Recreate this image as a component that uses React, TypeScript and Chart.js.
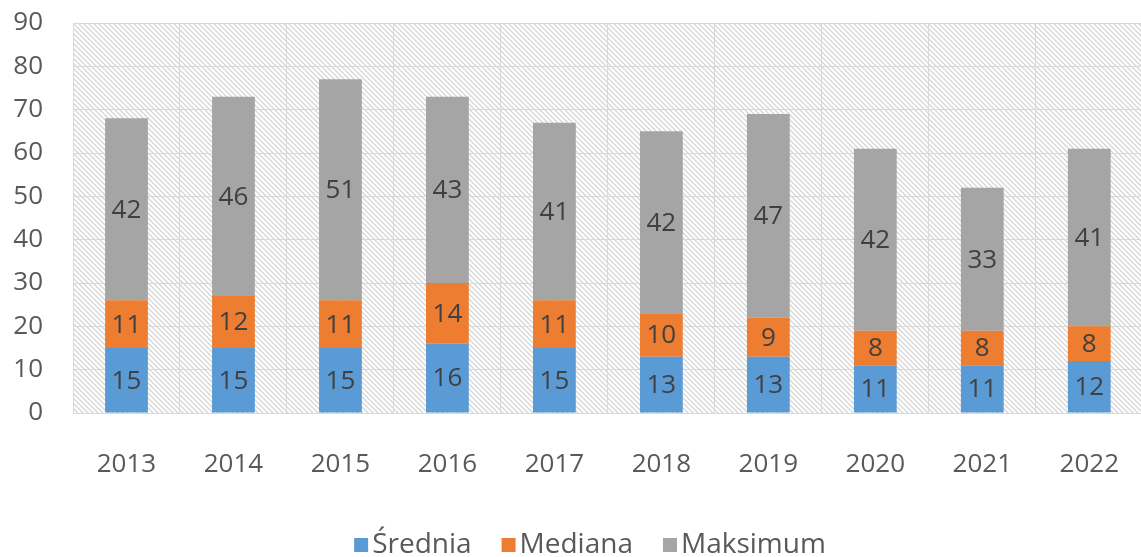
import React, { useEffect, useRef } from 'react';
import { Chart, registerables } from 'chart.js';

Chart.register(...registerables);

const years = ['2013', '2014', '2015', '2016', '2017', '2018', '2019', '2020', '2021', '2022'];
const srednia = [15, 15, 15, 16, 15, 13, 13, 11, 11, 12];
const mediana = [11, 12, 11, 14, 11, 10, 9, 8, 8, 8];
const maksimum = [42, 46, 51, 43, 41, 42, 47, 42, 33, 41];
const seriesNames = ['Średnia', 'Mediana', 'Maksimum'];
const seriesColors = ['#5b9bd5', '#ed7d31', '#a5a5a5'];
const yMin = 0;
const yMax = 90;
const yStep = 10;

const FONT = "'Open Sans', sans-serif";

function makeHatch(): CanvasPattern | string {
  const s = 5;
  const c = document.createElement('canvas');
  c.width = s;
  c.height = s;
  const g = c.getContext('2d');
  if (!g) return '#ffffff';
  g.fillStyle = '#ffffff';
  g.fillRect(0, 0, s, s);
  g.strokeStyle = '#d6d6d6';
  g.lineWidth = 1.3;
  g.beginPath();
  for (const k of [-s, 0, s]) {
    g.moveTo(k - 1, -1);
    g.lineTo(k + s + 1, s + 1);
  }
  g.stroke();
  return g.createPattern(c, 'repeat') || '#ffffff';
}

const hatchPlugin = {
  id: 'hatchBg',
  beforeDraw(chart: any) {
    const { ctx, chartArea } = chart;
    if (!chartArea) return;
    ctx.save();
    ctx.fillStyle = makeHatch();
    ctx.fillRect(chartArea.left, chartArea.top, chartArea.right - chartArea.left, chartArea.bottom - chartArea.top);
    ctx.restore();
  },
};

const labelPlugin = {
  id: 'segLabels',
  afterDatasetsDraw(chart: any) {
    const ctx = chart.ctx;
    ctx.save();
    ctx.font = `26px ${FONT}`;
    ctx.fillStyle = '#404040';
    ctx.textAlign = 'center';
    ctx.textBaseline = 'middle';
    chart.data.datasets.forEach((ds: any, i: number) => {
      const meta = chart.getDatasetMeta(i);
      meta.data.forEach((el: any, j: number) => {
        const p = el.getProps(['x', 'y', 'base'], true);
        ctx.fillText(String(ds.data[j]), p.x, (p.y + p.base) / 2 + 1);
      });
    });
    ctx.restore();
  },
};

// Legend drawn below the axis, centred at a fixed x like the reference
const LEGEND_CENTER_X = 590;
const LEGEND_Y = 545;
const LEGEND_BOX = 14;
const LEGEND_GAP = 4;
const LEGEND_SPACING = 30;

const legendPlugin = {
  id: 'customLegend',
  afterDraw(chart: any) {
    const ctx = chart.ctx;
    ctx.save();
    ctx.font = `28px ${FONT}`;
    ctx.textBaseline = 'middle';
    ctx.textAlign = 'left';
    const items = chart.data.datasets.map((ds: any) => ({
      text: ds.label as string,
      color: ds.backgroundColor as string,
      w: ctx.measureText(ds.label).width,
    }));
    const total =
      items.reduce((a: number, it: any) => a + LEGEND_BOX + LEGEND_GAP + it.w, 0) + LEGEND_SPACING * (items.length - 1);
    let x = LEGEND_CENTER_X - total / 2;
    items.forEach((it: any) => {
      ctx.fillStyle = it.color;
      ctx.fillRect(x, LEGEND_Y - LEGEND_BOX / 2, LEGEND_BOX, LEGEND_BOX);
      x += LEGEND_BOX + LEGEND_GAP;
      ctx.fillStyle = '#595959';
      ctx.fillText(it.text, x, LEGEND_Y);
      x += it.w + LEGEND_SPACING;
    });
    ctx.restore();
  },
};

export default function App() {
  const ref = useRef<HTMLCanvasElement | null>(null);

  useEffect(() => {
    if (!ref.current) return;
    const data = [srednia, mediana, maksimum];
    const chart = new Chart(ref.current, {
      type: 'bar',
      data: {
        labels: years,
        datasets: seriesNames.map((name, i) => ({
          label: name,
          data: data[i],
          backgroundColor: seriesColors[i],
          borderWidth: 0,
          categoryPercentage: 1,
          barPercentage: 0.4,
        })),
      },
      options: {
        responsive: false,
        animation: false,
        devicePixelRatio: 1,
        layout: { padding: { top: 23, left: 0, right: 0, bottom: 0 } },
        plugins: {
          tooltip: { enabled: false },
          legend: { display: false },
        },
        scales: {
          x: {
            stacked: true,
            offset: true,
            grid: { offset: true, color: '#d9d9d9', lineWidth: 1, drawTicks: false },
            border: { display: false },
            ticks: { font: { family: FONT, size: 26 }, color: '#595959', padding: 36 },
            afterFit: (s: any) => {
              s.height = 144;
            },
          },
          y: {
            stacked: true,
            min: yMin,
            max: yMax,
            ticks: { stepSize: yStep, font: { family: FONT, size: 26 }, color: '#595959', padding: 30 },
            grid: { color: '#d9d9d9', lineWidth: 1, drawTicks: false },
            border: { display: false },
            afterFit: (s: any) => {
              s.width = 73;
              s.paddingTop = 10;
              s.paddingBottom = 10;
            },
          },
        },
      },
      plugins: [hatchPlugin, labelPlugin, legendPlugin],
    } as any);
    return () => chart.destroy();
  }, []);

  return (
    <div style={{ position: 'absolute', left: 0, top: 0, width: 1141, height: 557, overflow: 'hidden', background: '#fff' }}>
      <canvas ref={ref} width={1155} height={557} style={{ width: 1155, height: 557, display: 'block' }} />
    </div>
  );
}
